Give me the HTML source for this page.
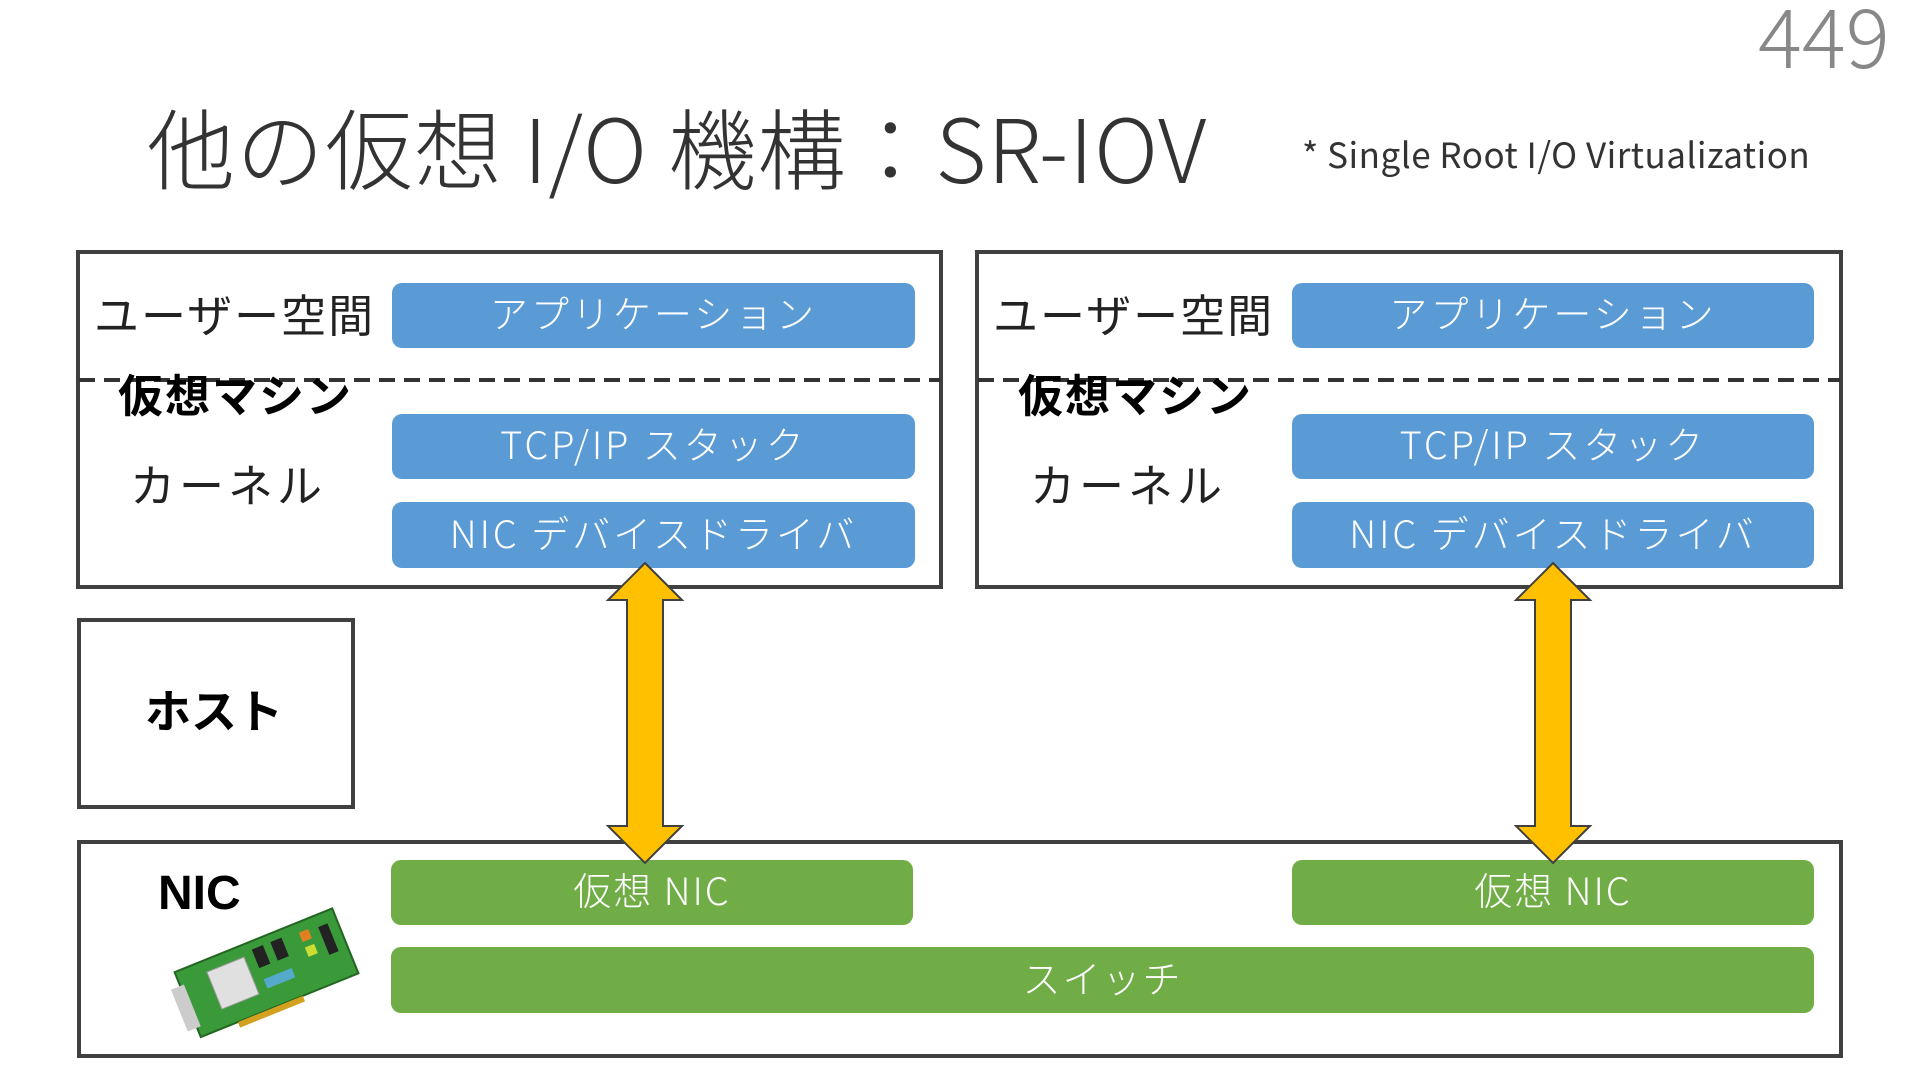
<!DOCTYPE html>
<html><head><meta charset="utf-8"><style>
body{margin:0;width:1920px;height:1080px;background:#fff;position:relative;overflow:hidden;font-family:"Liberation Sans","Noto Sans CJK JP",sans-serif;}
.a{position:absolute;}
.box{position:absolute;border:4px solid #404040;box-sizing:border-box;}
.bl{position:absolute;background:#5b9bd5;border-radius:10px;color:#fff;font-size:38px;display:flex;align-items:center;justify-content:center;font-family:"Noto Sans CJK JP",sans-serif;font-weight:300;letter-spacing:3px;padding-bottom:8px;box-sizing:border-box;}
.gr{position:absolute;background:#70ad47;border-radius:10px;color:#fff;font-size:38px;display:flex;align-items:center;justify-content:center;font-family:"Noto Sans CJK JP",sans-serif;font-weight:300;letter-spacing:2px;padding-bottom:8px;box-sizing:border-box;}
.t{position:absolute;font-family:"Noto Sans CJK JP",sans-serif;line-height:1;white-space:nowrap;}
</style></head><body>
<div class="t" style="left:1758px;top:-8px;font-size:82px;color:#888;font-weight:300;">449</div>
<div class="t" style="left:147px;top:102px;font-size:88px;color:#333;font-weight:300;letter-spacing:1px;">他の仮想 I/O 機構：SR-IOV</div>
<div class="t" style="left:1302px;top:136px;font-size:35px;color:#333;letter-spacing:0.5px;">* Single Root I/O Virtualization</div>

<div class="box" style="left:76px;top:250px;width:867px;height:339px;"></div>
<div class="box" style="left:975px;top:250px;width:868px;height:339px;"></div>
<svg class="a" style="left:0;top:0;" width="1920" height="600">
<line x1="79" y1="380" x2="940" y2="380" stroke="#333" stroke-width="4" stroke-dasharray="16 9"/>
<line x1="978" y1="380" x2="1840" y2="380" stroke="#333" stroke-width="4" stroke-dasharray="16 9"/>
</svg>

<div class="t" style="left:94px;top:290px;font-size:45px;color:#222;letter-spacing:2px;">ユーザー空間</div>
<div class="t" style="left:118px;top:370px;font-size:45px;color:#000;font-weight:bold;letter-spacing:2px;">仮想マシン</div>
<div class="t" style="left:130px;top:460px;font-size:45px;color:#222;letter-spacing:4px;">カーネル</div>
<div class="t" style="left:993px;top:290px;font-size:45px;color:#222;letter-spacing:2px;">ユーザー空間</div>
<div class="t" style="left:1018px;top:370px;font-size:45px;color:#000;font-weight:bold;letter-spacing:2px;">仮想マシン</div>
<div class="t" style="left:1030px;top:460px;font-size:45px;color:#222;letter-spacing:4px;">カーネル</div>

<div class="bl" style="left:392px;top:283px;width:523px;height:65px;">アプリケーション</div>
<div class="bl" style="left:392px;top:414px;width:523px;height:65px;">TCP/IP スタック</div>
<div class="bl" style="left:392px;top:502px;width:523px;height:66px;">NIC デバイスドライバ</div>
<div class="bl" style="left:1292px;top:283px;width:522px;height:65px;">アプリケーション</div>
<div class="bl" style="left:1292px;top:414px;width:522px;height:65px;">TCP/IP スタック</div>
<div class="bl" style="left:1292px;top:502px;width:522px;height:66px;">NIC デバイスドライバ</div>

<div class="box" style="left:77px;top:618px;width:278px;height:191px;"></div>
<div class="t" style="left:145px;top:686px;font-size:46px;font-weight:bold;color:#000;">ホスト</div>

<div class="box" style="left:77px;top:840px;width:1766px;height:218px;"></div>
<div class="t" style="left:158px;top:870px;font-size:48px;font-weight:bold;color:#000;font-family:'Liberation Sans',sans-serif;">NIC</div>
<svg class="a" style="left:160px;top:900px;" width="200" height="140" viewBox="0 0 200 140">
<g transform="rotate(-22 100 70)">
<rect x="20" y="40" width="170" height="70" fill="#3a9a3a" stroke="#226622" stroke-width="2"/>
<rect x="50" y="52" width="40" height="40" fill="#e0e0e0" stroke="#999"/>
<rect x="100" y="48" width="12" height="20" fill="#222"/><rect x="120" y="48" width="12" height="20" fill="#222"/>
<rect x="150" y="50" width="10" height="10" fill="#e08020"/><rect x="150" y="66" width="10" height="10" fill="#ccdd33"/>
<rect x="170" y="52" width="10" height="30" fill="#222"/><rect x="100" y="80" width="30" height="10" fill="#55aacc"/>
<rect x="10" y="55" width="14" height="45" fill="#ccc"/>
<rect x="60" y="110" width="70" height="6" fill="#d4a020"/>
</g></svg>

<div class="gr" style="left:391px;top:860px;width:522px;height:65px;">仮想 NIC</div>
<div class="gr" style="left:1292px;top:860px;width:522px;height:65px;">仮想 NIC</div>
<div class="gr" style="left:391px;top:947px;width:1423px;height:66px;">スイッチ</div>

<svg class="a" style="left:0;top:0;" width="1920" height="1080">
<polygon points="645,563 682,600 663,600 663,826 682,826 645,863 608,826 627,826 627,600 608,600" fill="#ffc000" stroke="#404040" stroke-width="2"/>
<polygon points="1553,563 1590,600 1571,600 1571,826 1590,826 1553,863 1516,826 1535,826 1535,600 1516,600" fill="#ffc000" stroke="#404040" stroke-width="2"/>
</svg>
</body></html>
